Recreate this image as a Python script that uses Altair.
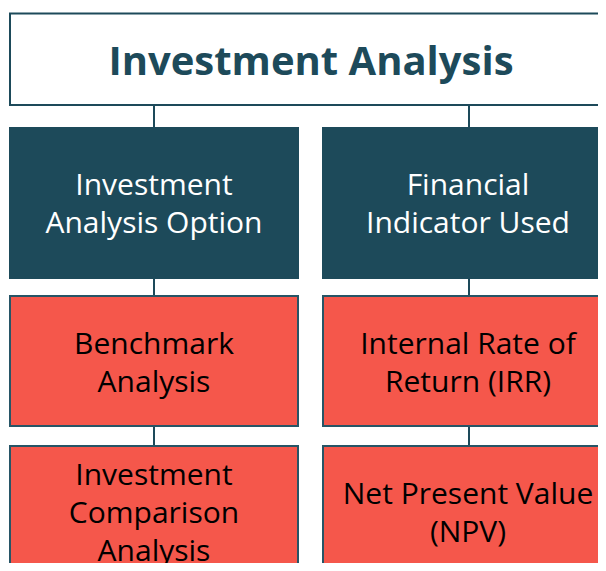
import altair as alt
import pandas as pd

# ---- content ----
title = "Investment Analysis"
headers = ["Investment\nAnalysis Option", "Financial\nIndicator Used"]
left_items = ["Benchmark\nAnalysis", "Investment\nComparison\nAnalysis"]
right_items = ["Internal Rate of\nReturn (IRR)", "Net Present Value\n(NPV)"]

# ---- layout (page pixel space) ----
DARK = "#1d4a5a"
RED = "#f5574b"
BORDER = "#275566"
FS = 30
LH = 38
TEXT_SHIFT = 2.5
col_x0 = [9, 322]
col_x1 = [299, 616]
col_cx = [154, 469]
title_box = dict(x0=10, x1=612, y0=13.5, y1=105)
rows = [(127, 279), (295, 427), (445, 577)]  # header, red row 1, red row 2

PX0, PX1, PY0, PY1 = 8, 598, 8, 563
xs = alt.Scale(domain=[PX0, PX1], range=[0, PX1 - PX0])
ys = alt.Scale(domain=[PY0, PY1], reverse=True)
X = lambda f: alt.X(f, type="quantitative", scale=xs, axis=None)
Y = lambda f: alt.Y(f, type="quantitative", scale=ys, axis=None)

# title box
tb = pd.DataFrame([title_box])
title_rect = alt.Chart(tb).mark_rect(fill="white", stroke=DARK, strokeWidth=2, clip=True).encode(
    x=X("x0"), x2="x1", y=Y("y0"), y2="y1")
title_df = pd.DataFrame({"label": [title], "x": [311],
                         "y": [(title_box["y0"] + title_box["y1"]) / 2 + 4]})
title_text = alt.Chart(title_df).mark_text(font="Open Sans", fontSize=40, fontWeight="bold",
                                           color=DARK, baseline="middle", align="center", clip=True).encode(
    x=X("x"), y=Y("y"), text="label")

# boxes
box_rows = []
for c in range(2):
    box_rows.append(dict(kind="header", label=headers[c], x0=col_x0[c], x1=col_x1[c],
                         y0=rows[0][0], y1=rows[0][1], cx=col_cx[c] - (1 if c else 0)))
    items = left_items if c == 0 else right_items
    for r, lab in enumerate(items):
        y0, y1 = rows[r + 1]
        box_rows.append(dict(kind="item", label=lab, x0=col_x0[c] + 1, x1=col_x1[c] - 1,
                             y0=y0 + 1, y1=y1 - 1, cx=col_cx[c] - (1 if c else 0)))
boxes = pd.DataFrame(box_rows)
nlines = boxes["label"].str.count("\n")
boxes["cy"] = (boxes["y0"] + boxes["y1"]) / 2 - nlines * LH / 2 + TEXT_SHIFT
boxes.loc[boxes["kind"] == "header", "cy"] -= 0.5

header_rect = alt.Chart(boxes).transform_filter("datum.kind == 'header'").mark_rect(
    fill=DARK, clip=True).encode(x=X("x0"), x2="x1", y=Y("y0"), y2="y1")
item_rect = alt.Chart(boxes).transform_filter("datum.kind == 'item'").mark_rect(
    fill=RED, stroke=BORDER, strokeWidth=2, clip=True).encode(x=X("x0"), x2="x1", y=Y("y0"), y2="y1")

header_text = alt.Chart(boxes).transform_filter("datum.kind == 'header'").mark_text(
    font="Open Sans", fontSize=FS, lineHeight=LH, lineBreak="\n", color="white",
    baseline="middle", align="center").encode(x=X("cx"), y=Y("cy"), text="label")
item_text = alt.Chart(boxes).transform_filter("datum.kind == 'item'").mark_text(
    font="Open Sans", fontSize=FS, lineHeight=LH, lineBreak="\n", color="black",
    baseline="middle", align="center").encode(x=X("cx"), y=Y("cy"), text="label")

# connectors
conn = []
gaps = [(title_box["y1"], rows[0][0]), (rows[0][1], rows[1][0]), (rows[1][1], rows[2][0])]
for c in range(2):
    for g0, g1 in gaps:
        conn.append(dict(x=col_cx[c], y0=g0, y1=g1))
conn = pd.DataFrame(conn)
connectors = alt.Chart(conn).mark_rule(color=DARK, strokeWidth=2).encode(
    x=X("x"), y=Y("y0"), y2="y1")

chart = alt.layer(connectors, title_rect, title_text, header_rect, item_rect, header_text, item_text).properties(
    width=PX1 - PX0, height=PY1 - PY0, padding=0, autosize=alt.AutoSizeParams(type="none")
).configure_view(stroke=None)

chart.save("out.html", embed_options={"renderer": "svg", "actions": False})
